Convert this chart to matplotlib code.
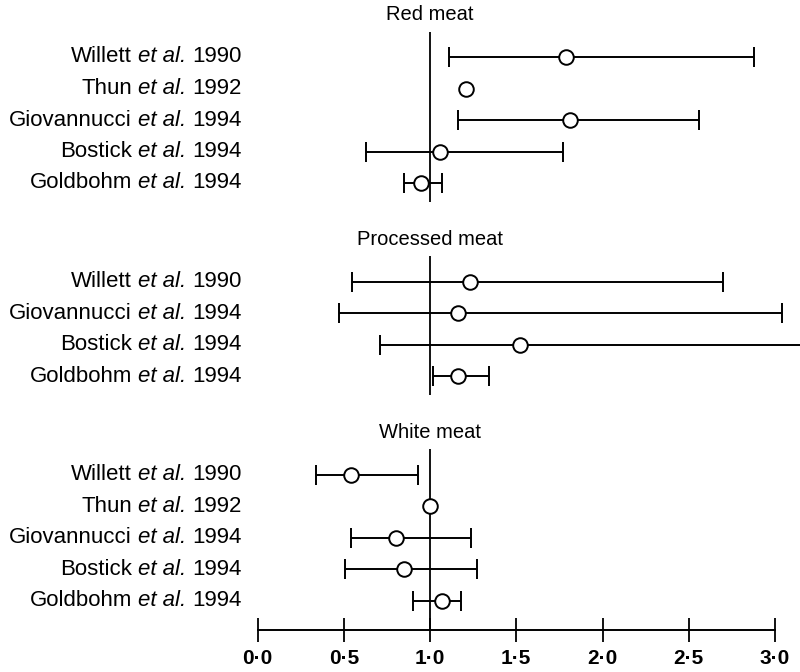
import numpy as np
import matplotlib
matplotlib.use("Agg")
from matplotlib import pyplot as plt
from matplotlib.transforms import offset_copy

plt.rcParams['font.family'] = ['Liberation Sans', 'DejaVu Sans']

# relative risks with 95% CI (nan = no interval reported)
red_studies = ["Willett", "Thun", "Giovannucci", "Bostick", "Goldbohm"]
red_years = [1990, 1992, 1994, 1994, 1994]
red_rr = [1.79, 1.21, 1.81, 1.06, 0.95]
red_lo = [1.11, np.nan, 1.16, 0.63, 0.85]
red_hi = [2.88, np.nan, 2.56, 1.77, 1.07]

proc_studies = ["Willett", "Giovannucci", "Bostick", "Goldbohm"]
proc_years = [1990, 1994, 1994, 1994]
proc_rr = [1.23, 1.16, 1.52, 1.16]
proc_lo = [0.55, 0.47, 0.71, 1.02]
proc_hi = [2.70, 3.04, 3.35, 1.34]

white_studies = ["Willett", "Thun", "Giovannucci", "Bostick", "Goldbohm"]
white_years = [1990, 1992, 1994, 1994, 1994]
white_rr = [0.54, 1.00, 0.80, 0.85, 1.07]
white_lo = [0.34, np.nan, 0.54, 0.51, 0.90]
white_hi = [0.93, np.nan, 1.24, 1.27, 1.18]

groups = [
    ("Red meat", red_studies, red_years, red_rr, red_lo, red_hi),
    ("Processed meat", proc_studies, proc_years, proc_rr, proc_lo, proc_hi),
    ("White meat", white_studies, white_years, white_rr, white_lo, white_hi),
]

x_ticks = [0.0, 0.5, 1.0, 1.5, 2.0, 2.5, 3.0]

W, H = 800, 672
fig = plt.figure(figsize=(W / 100, H / 100), dpi=100)
renderer = fig.canvas.get_renderer()
x0_px, axis_px = 257.5, 630
ax = fig.add_axes([x0_px / W, 1 - axis_px / H, 1 - x0_px / W, axis_px / H])

row_h = 31.5          # pixels per row
gap = 2.13            # extra rows between groups
first_row_px = 57
top = -first_row_px / row_h
bottom = top + axis_px / row_h
ax.set_ylim(bottom, top)
ax.set_xlim(0, (W - x0_px) / 172.5)

fs = 16
space_px = 0.278 * fs * 100 / 72


def study_label(y, name, year):
    # "Name et al. Year" with italic "et al.", built right to left
    offset = 0.0
    for piece, style in [(str(year), 'normal'), ("et al.", 'italic'), (name, 'normal')]:
        tr = offset_copy(ax.transData, fig=fig, x=-offset, y=0, units='dots')
        t = ax.text(-0.09, y, piece, ha='right', va='center', fontsize=fs,
                    style=style, transform=tr, clip_on=False)
        offset += t.get_window_extent(renderer).width + space_px


start = 0.0
for gi, (title, studies, years, rr, lo, hi) in enumerate(groups):
    ys = start + np.arange(len(studies))
    ax.text(1.0, start - 1.35, title, ha='center', va='center', fontsize=14.5)
    y_end = bottom if gi == len(groups) - 1 else ys[-1] + 0.6
    ax.vlines(1.0, start - 0.8, y_end, color='black', lw=1.3, zorder=1)
    for y, name, yr, r, l, h in zip(ys, studies, years, rr, lo, hi):
        study_label(y, name, yr)
        if not np.isnan(l):
            ax.errorbar(r, y, xerr=[[r - l], [h - r]], fmt='none', ecolor='black',
                        elinewidth=1.4, capsize=7, capthick=1.4, zorder=2)
        ax.plot(r, y, 'o', ms=10.5, mfc='white', mec='black', mew=1.4, zorder=3)
    start = ys[-1] + 1 + gap

for s in ['top', 'right', 'left']:
    ax.spines[s].set_visible(False)
ax.spines['bottom'].set_bounds(0, 3)
ax.spines['bottom'].set_linewidth(1.4)
ax.set_yticks([])
ax.set_xticks(x_ticks)
ax.set_xticklabels([f"{t:.1f}".replace('.', '\u00b7') for t in x_ticks],
                   fontsize=15, fontweight='bold')
ax.tick_params(axis='x', direction='inout', length=17, width=1.3, pad=5)

fig.savefig("out.png", dpi=100)
